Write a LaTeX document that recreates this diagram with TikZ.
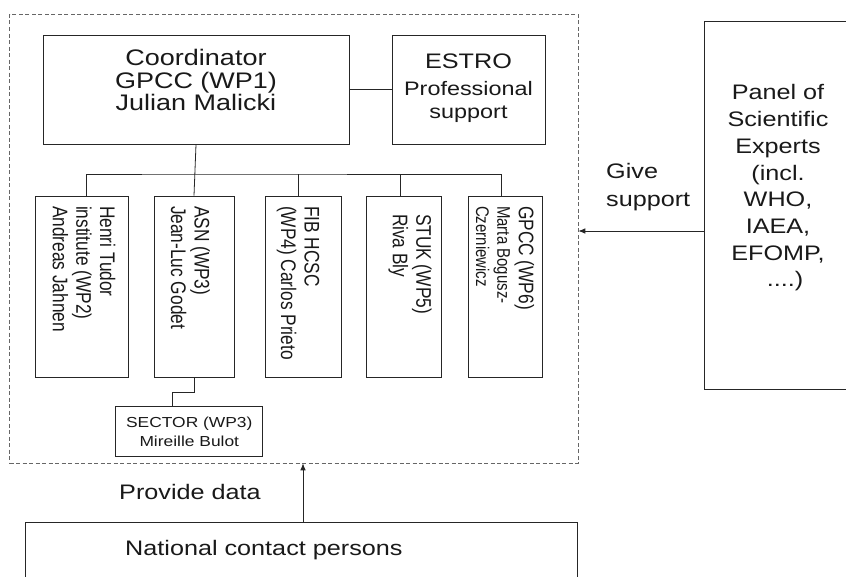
\documentclass[tikz,border=0pt]{standalone}
\usepackage{fontspec}
\usepackage{graphicx}
\setmainfont{Liberation Sans}[FakeStretch=1.2]
\newfontfamily\rotfont{Liberation Sans}
\usetikzlibrary{arrows.meta}
\newcommand{\rottxt}[3]{\scalebox{1}[1.22]{\parbox{#1}{\raggedright\rotfont\fontsize{17.3}{19.3}\selectfont #3}}}
\tikzset{
  box/.style={draw=black!85, line width=0.8pt, inner sep=0pt, anchor=center},
  conn/.style={draw=black!85, line width=0.8pt},
  arr/.style={conn, -{Latex[length=7pt,width=5.5pt]}},
  txt/.style={inner sep=0pt, align=center, text=black!90},
  rtxt/.style={inner sep=0pt, rotate=-90, text=black!90},
}
\begin{document}
\begin{tikzpicture}[x=1pt,y=-1pt]
\useasboundingbox (0,0) rectangle (846,576);
\fill[white] (0,0) rectangle (846,576);
% outer dashed frame
\node[draw=black!60, line width=0.6pt, dash pattern=on 4pt off 2.5pt, inner sep=0pt,
      minimum width=568.5pt, minimum height=449pt] (outer) at (293.75,238.5) {};
% top boxes
\node[box, minimum width=306pt, minimum height=109pt] (coord) at (196,89.5) {};
\node[txt, font=\fontsize{22.5}{22.5}\selectfont] (coordtxt) at (196,80) {Coordinator\\GPCC (WP1)\\Julian Malicki};
\node[box, minimum width=153pt, minimum height=109pt] (estro) at (468.5,89.5) {};
\node[txt, font=\fontsize{19.5}{23.3}\selectfont] (estrotxt) at (468.5,88) {{\fontsize{21}{23.3}\selectfont ESTRO}\\[4pt]Professional\\support};
\draw[conn] (coord) -- (estro);
% WP boxes
\node[box, minimum width=93pt, minimum height=181pt] (wp2) at (81.5,286.5) {};
\node[box, minimum width=80pt, minimum height=181pt] (wp3) at (194,286.5) {};
\node[box, minimum width=76pt, minimum height=181pt] (wp4) at (303,286.5) {};
\node[box, minimum width=75pt, minimum height=181pt] (wp5) at (403.5,286.5) {};
\node[box, minimum width=74pt, minimum height=181pt] (wp6) at (505,286.5) {};
\node[rtxt] (wp2txt) at (84,286.5) {\rottxt{161pt}{}{Henri Tudor\\institute (WP2)\\Andreas Jahnen}};
\node[rtxt] (wp3txt) at (190.5,286.5) {\rottxt{161pt}{}{ASN (WP3)\\Jean-Luc Godet}};
\node[rtxt] (wp4txt) at (298,286.5) {\rottxt{161pt}{}{FIB HCSC\\(WP4) Carlos Prieto}};
\node[rtxt] (wp5txt) at (410,286.5) {\rottxt{161pt}{}{\hspace*{8pt}STUK (WP5)\\\hspace*{8pt}Riva Bly}};
\node[rtxt] (wp6txt) at (505,286.5) {\scalebox{1}[1.22]{\parbox{161pt}{\raggedright\rotfont\fontsize{17.3}{20}\selectfont GPCC (WP6)\\\fontsize{15}{17.5}\selectfont Marta Bogusz-\\Czerniewicz}}};
% tree
\coordinate (bus) at (196,174);
\draw[conn] (coord.south) -- (wp3.north);
\draw[conn] (wp2.north -| 86.7,0) |- (bus) -| (wp6.north -| 501.7,0);
\draw[conn] (bus -| 298.3,0) -- (wp4.north -| 298.3,0);
\draw[conn] (bus -| 400.7,0) -- (wp5.north -| 400.7,0);
% sector
\node[box, minimum width=147pt, minimum height=50pt] (sector) at (189.3,431.7) {};
\node[txt, font=\fontsize{14.5}{19}\selectfont] (sectortxt) at (sector.center) {SECTOR (WP3)\\Mireille Bulot};
\draw[conn] (wp3.south) -- ++(0,14.7) -| (sector.north -| 172.7,0);
% panel
\node[box, anchor=north west, minimum width=150pt, minimum height=368pt] (panel) at (704,21) {};
\node[txt, font=\fontsize{21}{26.7}\selectfont] (paneltxt) at (778,188) {Panel of\\Scientific\\Experts\\(incl.\\WHO,\\IAEA,\\EFOMP,\\\ \ ....)};
\draw[arr] (panel.west |- 0,231) -- (outer.east |- 0,231);
\node[txt, align=left, anchor=west, font=\fontsize{21}{27.7}\selectfont] (givetxt) at (606,187) {Give\\support};
% national contact persons
\node[box, anchor=north west, minimum width=552pt, minimum height=80pt] (ncp) at (25,522) {};
\node[txt, anchor=base west, font=\fontsize{21}{25}\selectfont] (ncptxt) at (125,555) {National contact persons};
\draw[arr] (ncp.north -| 303,0) -- (outer.south -| 303,0);
\node[txt, anchor=base west, font=\fontsize{21}{25}\selectfont] (pdtxt) at (119,499) {Provide data};
\end{tikzpicture}
\end{document}
